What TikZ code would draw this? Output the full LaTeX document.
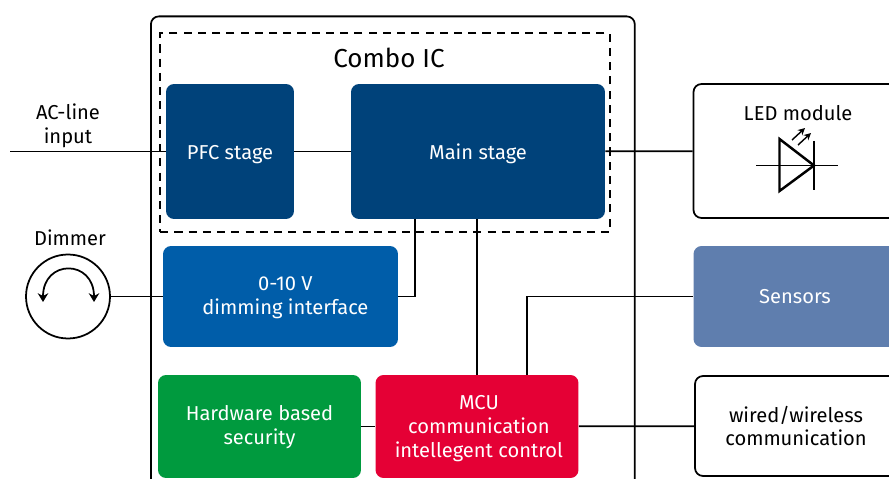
\documentclass[tikz,border=0pt]{standalone}
\usepackage{fontspec}
\setmainfont{Fira Sans}
\usetikzlibrary{arrows.meta}
\definecolor{stageblue}{HTML}{00427A}
\definecolor{dimblue}{HTML}{005DA9}
\definecolor{hwgreen}{HTML}{009A3E}
\definecolor{mcured}{HTML}{E50035}
\definecolor{sensorblue}{HTML}{5F7EAE}
\newcommand{\liftline}[1]{\rule{0pt}{#1}}
\tikzset{
  fillbox/.style={rounded corners=0.16cm,text=white,align=center,font=\fontsize{11.45}{13.6}\selectfont,inner sep=0pt},
  linebox/.style={draw,line width=1pt,rounded corners=0.16cm,fill=white,inner sep=0pt},
  plaintext/.style={align=center,font=\fontsize{11.45}{13.6}\selectfont,inner sep=0pt},
  wire/.style={line width=1pt}
}
\begin{document}
\begin{tikzpicture}[x=0.02cm,y=-0.02cm,line cap=butt]
\useasboundingbox (0,0) rectangle (889,479);
\clip (0,0) rectangle (889,479);

\node (board) [linebox,minimum width=9.68cm,minimum height=11cm,anchor=north west] at (150,15.5) {};
\node (combo) [draw,line width=1.4pt,dash pattern=on 4.6pt off 3.5pt,minimum width=9cm,minimum height=3.98cm,anchor=north west,inner sep=0pt] at (159,32) {};
\node (combotext) [plaintext,font=\fontsize{14.8}{16}\selectfont] at (389,58) {Combo IC};

\node (pfc) [fillbox,fill=stageblue,minimum width=2.56cm,minimum height=2.7cm,text height=11pt,text depth=2.4pt] at (230,151.5) {PFC stage};
\node (main) [fillbox,fill=stageblue,minimum width=5.08cm,minimum height=2.7cm,text height=11pt,text depth=2.4pt] at (478,151.5) {Main stage};
\node (dimif) [fillbox,fill=dimblue,minimum width=4.7cm,minimum height=2.02cm] at (280.5,296.5) {\hspace*{5.6pt}\liftline{9.4pt}0-10 V\\\hspace*{5.6pt}dimming interface};
\node (hw) [fillbox,fill=hwgreen,minimum width=4.06cm,minimum height=2.06cm] at (259.5,426.5) {\liftline{9.4pt}Hardware based\\security};
\node (mcu) [fillbox,fill=mcured,minimum width=4.06cm,minimum height=2.06cm] at (477,426.5) {\hspace*{2.2pt}\liftline{10.4pt}MCU\\\hspace*{2.2pt}communication\\\hspace*{2.2pt}intellegent control};

\node (led) [linebox,minimum width=4.06cm,minimum height=2.68cm] at (795,151) {};
\node (ledtext) [plaintext] at (798,113) {LED module};
\node (sensors) [fillbox,fill=sensorblue,minimum width=4.06cm,minimum height=2.02cm] at (795,296.5) {Sensors};
\node (comm) [linebox,align=center,font=\fontsize{11.45}{13.6}\selectfont,minimum width=4.04cm,minimum height=2cm] at (796,426) {wired/wireless\\communication};

\node (acin) [plaintext] at (68,126) {AC-line\\input};
\coordinate (acend) at (10,151.5);
\node (dimmer) [draw,circle,line width=1pt,minimum size=1.68cm,inner sep=0pt] at (68,296.5) {};
\node (dimtext) [plaintext] at (70,238) {Dimmer};

%arrows
\draw [wire] (acend) -- (pfc);
\draw [wire] (pfc) -- (main);
\draw [wire] (main) -- (led);
\draw [wire] (dimmer) -- (dimif);
\draw [wire] (main.south -| 415,0) |- (dimif.east);
\draw [wire] (main.south -| mcu) -- (mcu.north);
\draw [wire] (sensors.west) -| (mcu.north -| 527,0);
\draw [wire] (hw) -- (mcu);
\draw [wire] (mcu) -- (comm);

%dimmer knob
\draw [wire,{Stealth[length=5pt,width=6pt]}-{Stealth[length=5pt,width=6pt]}] (43,302) .. controls (43,259) and (94,259) .. (94,302);

%led symbol
\draw [line width=1.4pt,line join=miter] (779.5,139) -- (779.5,191) -- (814,165.5) -- cycle;
\draw [wire] (756,165.5) -- (838,165.5);
\draw [wire] (814,141) -- (814,190);
\draw [line width=0.8pt,-{Stealth[length=4pt,width=4pt]}] (792,140) -- (805,128);
\draw [line width=0.8pt,-{Stealth[length=4pt,width=4pt]}] (798,145) -- (811,133);
\end{tikzpicture}
\end{document}
